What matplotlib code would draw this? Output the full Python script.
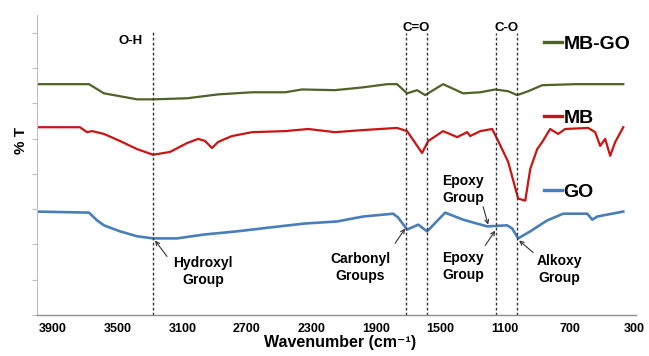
import numpy as np
import matplotlib
matplotlib.use("Agg")
import matplotlib.pyplot as plt

plt.rcParams['font.family'] = ['Liberation Sans', 'DejaVu Sans']
plt.rcParams['font.weight'] = 'bold'

# spectra (wavenumber, relative %T)
w_mbgo = [4000, 3678, 3585, 3380, 3281, 3071, 2879, 2668, 2463, 2358, 2154, 1980, 1831, 1770,
          1708, 1646, 1596, 1485, 1361, 1255, 1162, 1082, 1026, 958, 871, 667, 369]
t_mbgo = [65.4, 65.4, 62.8, 61.1, 61.1, 61.4, 62.5, 63.1, 63.1, 63.9, 63.7, 64.5, 65.4, 65.4,
          62.8, 63.7, 62.3, 65.4, 62.8, 63.1, 63.9, 63.4, 62.3, 63.4, 65.1, 65.4, 65.4]

w_mb = [4000, 3734, 3690, 3659, 3585, 3486, 3380, 3281, 3176, 3071, 3002, 2959, 2916, 2879,
        2835, 2792, 2668, 2463, 2321, 2154, 1980, 1770, 1708, 1615, 1577, 1485, 1398, 1336,
        1317, 1255, 1181, 1150, 1082, 1020, 976, 945, 902, 871, 822, 772, 729, 586, 543, 512,
        481, 450, 419, 369]
t_mb = [53.2, 53.2, 51.8, 52.1, 51.3, 49.3, 47.0, 45.4, 46.2, 48.7, 49.9, 49.3, 47.3, 49.0,
        49.9, 50.7, 51.8, 52.1, 52.7, 51.8, 52.4, 53.0, 52.1, 45.9, 49.3, 52.1, 50.4, 51.8,
        50.7, 52.1, 52.7, 49.9, 43.4, 33.0, 32.4, 41.4, 47.0, 49.0, 52.7, 51.3, 52.7, 53.0,
        51.8, 47.9, 49.9, 45.1, 49.0, 53.2]

w_go = [4000, 3678, 3628, 3585, 3486, 3380, 3281, 3133, 2965, 2761, 2556, 2346, 2141, 1980,
        1794, 1763, 1708, 1639, 1584, 1472, 1361, 1212, 1088, 1057, 1020, 945, 840, 741, 592,
        561, 530, 369]
t_go = [29.3, 29.0, 26.8, 25.4, 23.7, 22.3, 21.7, 21.7, 22.8, 23.7, 24.8, 25.9, 26.5, 27.9,
        28.7, 27.6, 24.2, 25.6, 23.7, 29.0, 27.0, 25.1, 25.4, 24.5, 21.7, 23.7, 26.8, 28.7,
        28.7, 27.0, 27.9, 29.3]

x_ticks = [3900, 3500, 3100, 2700, 2300, 1900, 1500, 1100, 700, 300]

# band positions (dotted guides) and their labels
band_lines = [3280, 1715, 1585, 1155, 1025]
band_tops = [80.6, 80.0, 80.0, 80.0, 80.0]
band_labels = ['O-H', 'C=O', 'C-O']
band_label_x = [3418, 1650, 1090]
band_label_y = [77.5, 81.4, 81.4]

# group annotations: text, text position, arrow tail, arrow head
notes = ['Hydroxyl\nGroup', 'Carbonyl\nGroups', 'Epoxy\nGroup', 'Epoxy\nGroup', 'Alkoxy\nGroup']
note_xy = [(2971, 12.4), (1999, 13.5), (1361, 13.7), (1361, 35.5), (766, 12.8)]
arrow_tail = [(3195, 16.6), (1782, 20.3), (1224, 19.7), (1237, 30.7), (927, 17.7)]
arrow_head = [(3269, 21.1), (1720, 24.5), (1162, 23.9), (1206, 25.6), (1014, 21.1)]

fig = plt.figure(figsize=(6.49, 3.56), dpi=100)
ax = fig.add_axes([0.057, 0.1152, 0.923, 0.8427])

l1, = ax.plot(w_mbgo, t_mbgo, color='#4F6228', lw=1.6, label='MB-GO')
l2, = ax.plot(w_mb, t_mb, color='#CC1414', lw=1.6, label='MB')
l3, = ax.plot(w_go, t_go, color='#4A7EBB', lw=1.9, label='GO')

for xv, top in zip(band_lines, band_tops):
    ax.plot([xv, xv], [0, top], color='#333333', lw=1.0, linestyle=(0, (2, 1.6)))

for lab, xv, yv in zip(band_labels, band_label_x, band_label_y):
    ax.text(xv, yv, lab, ha='center', va='center', fontsize=9.5, fontweight='bold')

for txt, pos, tail, head in zip(notes, note_xy, arrow_tail, arrow_head):
    ax.text(pos[0], pos[1], txt, ha='center', va='center', fontsize=10, fontweight='bold',
            linespacing=1.3)
    ax.annotate('', xy=head, xytext=tail,
                arrowprops=dict(arrowstyle='->', color='#333333', lw=0.8,
                                shrinkA=0, shrinkB=0, mutation_scale=7))

ax.set_xlim(4000, 290)
ax.set_ylim(0, 85)
ax.set_xticks(x_ticks)
ax.set_yticks(np.arange(0, 81, 10))
ax.set_yticklabels([])
ax.tick_params(axis='x', length=0, pad=6, labelsize=9)
ax.tick_params(axis='y', length=3.5, width=0.8, color='#BFBFBF', direction='out')
for lbl in ax.get_xticklabels():
    lbl.set_fontweight('bold')

ax.spines['top'].set_visible(False)
ax.spines['right'].set_visible(False)
ax.spines['left'].set_color('#BFBFBF')
ax.spines['bottom'].set_color('#8C8C8C')
ax.spines['bottom'].set_linewidth(1.0)

ax.set_xlabel('Wavenumber (cm\u207b\u00b9)', fontsize=11.5, fontweight='bold')
ax.xaxis.set_label_coords(0.506, -0.068)
ax.set_ylabel('% T', fontsize=11, fontweight='bold')
ax.yaxis.set_label_coords(-0.015, 0.583)

leg = ax.legend(handles=[l1, l2, l3], loc='upper left', bbox_to_anchor=(544 / 649, 0.900),
                bbox_transform=fig.transFigure, frameon=False, handlelength=0.9,
                handletextpad=0.1, labelspacing=2.9, borderpad=0, borderaxespad=0,
                prop={'size': 14, 'weight': 'bold'})
for h in leg.get_lines():
    h.set_linewidth(2.4)

fig.savefig('out.png', dpi=100)
